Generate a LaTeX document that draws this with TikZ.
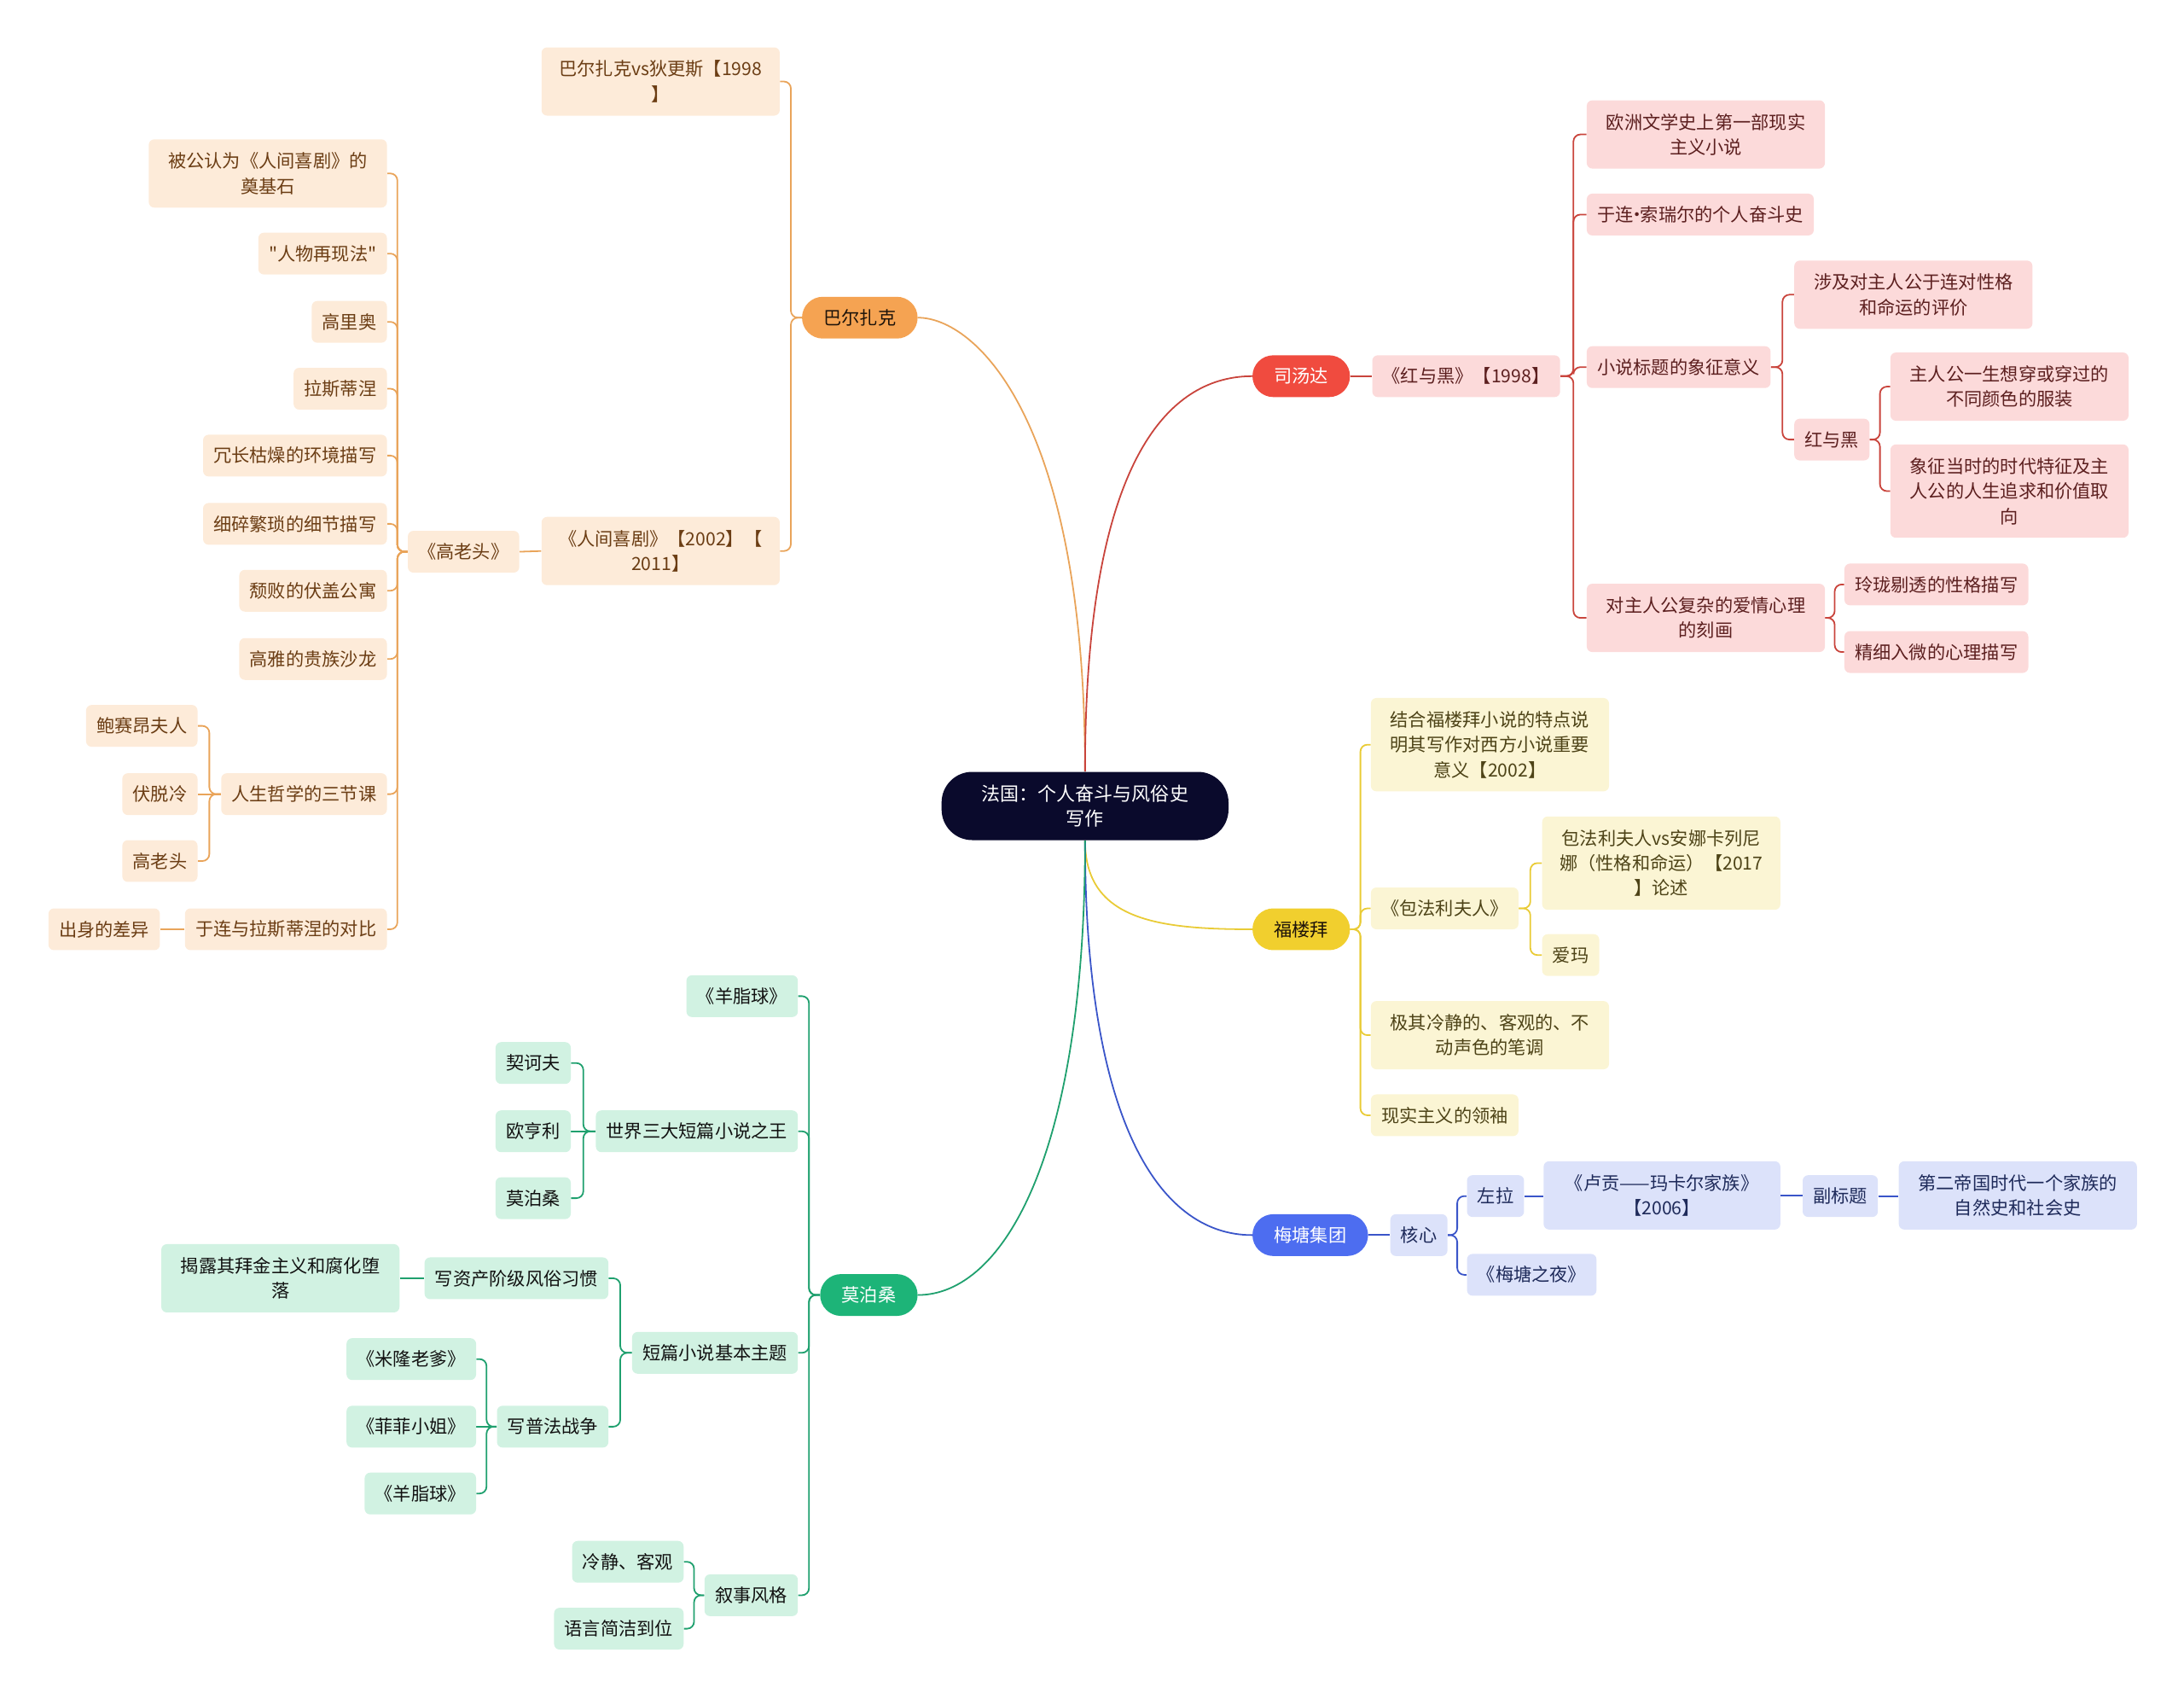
\documentclass[tikz,border=0pt]{standalone}
\usepackage{fontspec}
\setmainfont{Noto Sans CJK SC}
\newfontfamily\cjk{Noto Sans CJK SC}
\usetikzlibrary{backgrounds,calc}
\definecolor{rootc}{HTML}{0A0A2C}
\definecolor{pillO}{HTML}{F5A352}
\definecolor{pillR}{HTML}{F04B3F}
\definecolor{pillY}{HTML}{F1CF2E}
\definecolor{pillB}{HTML}{4D6DF0}
\definecolor{pillG}{HTML}{1DB478}
\definecolor{fillO}{HTML}{FDEBD9}
\definecolor{fillR}{HTML}{FCDADA}
\definecolor{fillY}{HTML}{FBF5D4}
\definecolor{fillB}{HTML}{DCE2FA}
\definecolor{fillG}{HTML}{D1F2E2}
\definecolor{txtO}{HTML}{6B3D14}
\definecolor{txtR}{HTML}{5C1F1F}
\definecolor{txtY}{HTML}{4D4317}
\definecolor{txtB}{HTML}{1E2A5A}
\definecolor{txtG}{HTML}{111111}
\definecolor{lnO}{HTML}{E9A45A}
\definecolor{lnR}{HTML}{C9443C}
\definecolor{lnY}{HTML}{E9CB36}
\definecolor{lnB}{HTML}{3A55C9}
\definecolor{lnG}{HTML}{1FA06E}
\tikzset{
  base/.style={inner xsep=7.5pt, inner ysep=0pt, minimum height=30pt, rounded corners=4pt,
    align=center, font=\cjk\fontsize{13}{18}\selectfont},
  ml/.style={minimum width=171pt, inner xsep=6pt},
  mltwo/.style={ml, minimum height=49pt},
  mlthree/.style={ml, minimum height=67pt},
  pill/.style={base, inner xsep=15.5pt, rounded corners=15pt},
  bO/.style={base, fill=fillO, text=txtO},
  bR/.style={base, fill=fillR, text=txtR},
  bY/.style={base, fill=fillY, text=txtY},
  bB/.style={base, fill=fillB, text=txtB},
  bG/.style={base, fill=fillG, text=txtG},
  rootnode/.style={fill=rootc, text=white, minimum width=206pt, minimum height=49pt,
    rounded corners=22pt, align=center, inner sep=0pt, font=\cjk\fontsize{13.5}{18}\selectfont},
  conn/.style={line width=1.1pt, rounded corners=5pt},
  cO/.style={conn, draw=lnO}, cR/.style={conn, draw=lnR}, cY/.style={conn, draw=lnY},
  cB/.style={conn, draw=lnB}, cG/.style={conn, draw=lnG},
  tree/.style={to path={-- ($(\tikztostart)!.5!(\tikztostart -| \tikztotarget)$) |- (\tikztotarget)}},
}
\begin{document}
\begin{tikzpicture}[x=1pt,y=-1pt]
\useasboundingbox (0,0) rectangle (1568,1219);

% root
\node[rootnode] (root) at (779,578.5) {法国：个人奋斗与风俗史\\写作};

% ---- Balzac (orange)
\node[pill, fill=pillO, text=black!85!brown, anchor=east] (bzk) at (659,228) {巴尔扎克};
\node[bO, mltwo, anchor=east] (o1) at (560,58.5) {巴尔扎克vs狄更斯【1998\\】};
\node[bO, mltwo, anchor=east] (o2) at (560,395.5) {《人间喜剧》【2002】【\\2011】};
\node[bO, anchor=east] (o21) at (373,396) {《高老头》};
\node[bO, mltwo, anchor=east] (oa) at (278,124.5) {被公认为《人间喜剧》的\\奠基石};
\node[bO, anchor=east] (ob) at (278,182) {"人物再现法"};
\node[bO, anchor=east] (oc) at (278,231) {高里奥};
\node[bO, anchor=east] (od) at (278,279) {拉斯蒂涅};
\node[bO, anchor=east] (oe) at (278,327) {冗长枯燥的环境描写};
\node[bO, anchor=east] (of) at (278,376) {细碎繁琐的细节描写};
\node[bO, anchor=east] (og) at (278,424) {颓败的伏盖公寓};
\node[bO, anchor=east] (oh) at (278,473) {高雅的贵族沙龙};
\node[bO, anchor=east] (oi) at (278,570) {人生哲学的三节课};
\node[bO, anchor=east] (oj) at (278,667) {于连与拉斯蒂涅的对比};
\node[bO, anchor=east] (oi1) at (142,521) {鲍赛昂夫人};
\node[bO, anchor=east] (oi2) at (142,570) {伏脱冷};
\node[bO, anchor=east] (oi3) at (142,618) {高老头};
\node[bO, anchor=east] (oj1) at (115,667) {出身的差异};

% ---- Stendhal (red)
\node[pill, fill=pillR, text=white, anchor=west] (st) at (899,270) {司汤达};
\node[bR, anchor=west] (hh) at (985,270) {《红与黑》【1998】};
\node[bR, mltwo, anchor=west] (r1) at (1139,96.5) {欧洲文学史上第一部现实\\主义小说};
\node[bR, anchor=west] (r2) at (1139,154) {于连\kern-4pt·\kern-4pt索瑞尔的个人奋斗史};
\node[bR, anchor=west] (r3) at (1139,263.5) {小说标题的象征意义};
\node[bR, mltwo, anchor=west] (r4) at (1139,443.5) {对主人公复杂的爱情心理\\的刻画};
\node[bR, mltwo, anchor=west] (r31) at (1288,211.5) {涉及对主人公于连对性格\\和命运的评价};
\node[bR, anchor=west] (r32) at (1288,315.5) {红与黑};
\node[bR, mltwo, anchor=west] (r321) at (1357,277.5) {主人公一生想穿或穿过的\\不同颜色的服装};
\node[bR, mlthree, anchor=west] (r322) at (1357,352.5) {象征当时的时代特征及主\\人公的人生追求和价值取\\向};
\node[bR, anchor=west] (r41) at (1324,419.5) {玲珑剔透的性格描写};
\node[bR, anchor=west] (r42) at (1324,468) {精细入微的心理描写};

% ---- Flaubert (yellow)
\node[pill, fill=pillY, text=black!85!brown, anchor=west] (fl) at (899,667) {福楼拜};
\node[bY, mlthree, anchor=west] (y1) at (984,534.5) {结合福楼拜小说的特点说\\明其写作对西方小说重要\\意义【2002】};
\node[bY, anchor=west] (y2) at (984,652) {《包法利夫人》};
\node[bY, mltwo, anchor=west] (y3) at (984,743) {极其冷静的、客观的、不\\动声色的笔调};
\node[bY, anchor=west] (y4) at (984,800.5) {现实主义的领袖};
\node[bY, mlthree, anchor=west] (y21) at (1107,619.5) {包法利夫人vs安娜卡列尼\\娜（性格和命运）【2017\\】论述};
\node[bY, anchor=west] (y22) at (1107,685.5) {爱玛};

% ---- Medan (blue)
\node[pill, fill=pillB, text=white, anchor=west] (mt) at (899,886.5) {梅塘集团};
\node[bB, anchor=west] (hx) at (998,886.5) {核心};
\node[bB, anchor=west] (zl) at (1053,858.5) {左拉};
\node[bB, anchor=west] (mtzy) at (1053,915) {《梅塘之夜》};
\node[bB, mltwo, minimum width=170pt, anchor=west] (lg) at (1108,858) {《卢贡——玛卡尔家族》\\【2006】};
\node[bB, anchor=west] (fbt) at (1294,858.5) {副标题};
\node[bB, mltwo, anchor=west] (dier) at (1363,858) {第二帝国时代一个家族的\\自然史和社会史};

% ---- Maupassant (green)
\node[pill, fill=pillG, text=white, anchor=east] (mps) at (659,929.5) {莫泊桑};
\node[bG, anchor=east] (g1) at (573,715) {《羊脂球》};
\node[bG, anchor=east] (g2) at (573,812) {世界三大短篇小说之王};
\node[bG, anchor=east] (g3) at (573,971) {短篇小说基本主题};
\node[bG, anchor=east] (g4) at (573,1145) {叙事风格};
\node[bG, anchor=east] (g21) at (410,763) {契诃夫};
\node[bG, anchor=east] (g22) at (410,812) {欧亨利};
\node[bG, anchor=east] (g23) at (410,860) {莫泊桑};
\node[bG, anchor=east] (g31) at (437,917.5) {写资产阶级风俗习惯};
\node[bG, anchor=east] (g32) at (437,1024) {写普法战争};
\node[bG, mltwo, anchor=east] (g311) at (287,917.5) {揭露其拜金主义和腐化堕\\落};
\node[bG, anchor=east] (g321) at (342,975.5) {《米隆老爹》};
\node[bG, anchor=east] (g322) at (342,1024) {《菲菲小姐》};
\node[bG, anchor=east] (g323) at (342,1072) {《羊脂球》};
\node[bG, anchor=east] (g41) at (491,1121) {冷静、客观};
\node[bG, anchor=east] (g42) at (491,1169) {语言简洁到位};

\begin{scope}[on background layer]
% main curves
\draw[cO] (root.north) .. controls (779,300) and (700,228) .. (bzk.east);
\draw[cR] (root.north) .. controls (779,310) and (850,270) .. (st.west);
\draw[cY] (root.south) .. controls (779,660) and (830,667) .. (fl.west);
\draw[cB] (root.south) .. controls (779,800) and (830,886.5) .. (mt.west);
\draw[cG] (root.south) .. controls (779,830) and (720,929.5) .. (mps.east);

% orange
\foreach \c in {o1,o2} \draw[cO] (bzk.west) to[tree] (\c.east);
\draw[cO] (o2.west) -- (o21.east);
\foreach \c in {oa,ob,oc,od,oe,of,og,oh,oi,oj} \draw[cO] (o21.west) to[tree] (\c.east);
\foreach \c in {oi1,oi3} \draw[cO] (oi.west) to[tree] (\c.east);
\draw[cO] (oi.west) -- (oi2.east);
\draw[cO] (oj.west) -- (oj1.east);

% red
\draw[cR] (st.east) -- (hh.west);
\foreach \c in {r1,r2,r3,r4} \draw[cR] (hh.east) to[tree] (\c.west);
\foreach \c in {r31,r32} \draw[cR] (r3.east) to[tree] (\c.west);
\foreach \c in {r321,r322} \draw[cR] (r32.east) to[tree] (\c.west);
\foreach \c in {r41,r42} \draw[cR] (r4.east) to[tree] (\c.west);

% yellow
\foreach \c in {y1,y2,y3,y4} \draw[cY] (fl.east) to[tree] (\c.west);
\foreach \c in {y21,y22} \draw[cY] (y2.east) to[tree] (\c.west);

% blue
\draw[cB] (mt.east) -- (hx.west);
\foreach \c in {zl,mtzy} \draw[cB] (hx.east) to[tree] (\c.west);
\draw[cB] (zl.east) -- (zl.east -| lg.west);
\draw[cB] (lg.east) -- (lg.east -| fbt.west);
\draw[cB] (fbt.east) -- (fbt.east -| dier.west);

% green
\foreach \c in {g1,g2,g3,g4} \draw[cG] (mps.west) to[tree] (\c.east);
\foreach \c in {g21,g23} \draw[cG] (g2.west) to[tree] (\c.east);
\draw[cG] (g2.west) -- (g22.east);
\foreach \c in {g31,g32} \draw[cG] (g3.west) to[tree] (\c.east);
\draw[cG] (g31.west) -- (g311.east);
\foreach \c in {g321,g323} \draw[cG] (g32.west) to[tree] (\c.east);
\draw[cG] (g32.west) -- (g322.east);
\foreach \c in {g41,g42} \draw[cG] (g4.west) to[tree] (\c.east);
\end{scope}
\end{tikzpicture}
\end{document}
